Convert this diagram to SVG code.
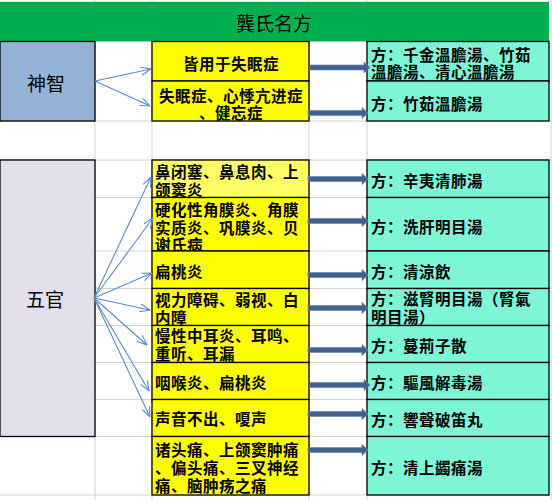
<svg xmlns="http://www.w3.org/2000/svg" xmlns:xlink="http://www.w3.org/1999/xlink" width="552" height="500" viewBox="0 0 552 500">
<style>
.grid{stroke:#D4D4D4;stroke-width:1;fill:none}
.box{stroke:#000;stroke-width:1.3}
.y{fill:#FFFF00}
.ly{fill:#FFFF66}
.t{fill:#7FF5D8}
.txt{font-family:"Noto Sans CJK SC","Noto Sans CJK TC",sans-serif;font-size:15.5px;letter-spacing:0.5px;font-weight:bold;fill:#000;dominant-baseline:central}
.big{font-family:"Noto Sans CJK SC","Noto Sans CJK TC",sans-serif;font-size:19px;fill:#000;dominant-baseline:central;text-anchor:middle}
.mid{text-anchor:middle}
.thin{stroke:#5B8BC9;stroke-width:1.1;fill:none;marker-end:url(#open)}
.blk{fill:#41608D;stroke:#6D8AB3;stroke-width:0.7}
</style>
<defs>
<marker id="open" viewBox="0 0 10 10" refX="10" refY="5" markerWidth="10" markerHeight="10" markerUnits="userSpaceOnUse" orient="auto">
<path d="M0,1 L10,5 L0,9" fill="none" stroke="#5B8BC9" stroke-width="1.1"/>
</marker>
<path id="ba" d="M0,-2.5 H54 V-5.5 L60,0 L54,5.5 V2.5 H0 Z"/>
</defs>
<rect x="0" y="0" width="552" height="500" fill="#fff"/>
<g id="gridlines" class="grid">
<path d="M95,0 V500 M152,0 V500 M309,0 V500 M367,0 V500 M551,0 V500"/>
<path d="M0,2 H552 M0,121 H552 M0,160 H552 M0,197.5 H552 M0,251 H552 M0,288.5 H552 M0,325.5 H552 M0,362.5 H552 M0,399.5 H552 M0,436.5 H552 M0,495 H552"/>
</g>
<g id="title">
<rect x="0" y="2" width="549" height="39.5" fill="#00B050"/>
<text class="big" x="274" y="22">龔氏名方</text>
</g>
<g id="shenzhi">
<rect class="box" x="0" y="41.5" width="95" height="79.5" fill="#95B3D7"/>
<text class="big" x="46" y="82">神智</text>
</g>
<g id="wuguan">
<rect class="box" x="0" y="160" width="95" height="276.5" fill="#E4DFEC"/>
<text class="big" x="45" y="298">五官</text>
</g>
<g id="sym1"><rect class="box y" x="152" y="41.5" width="157" height="39.5"/><text class="txt mid" x="231" y="63">皆用于失眠症</text></g>
<g id="sym2"><rect class="box y" x="152" y="81" width="157" height="40"/><text class="txt mid" x="231" y="94.5">失眠症、心悸亢进症<tspan x="231" dy="17.5">、健忘症</tspan></text></g>
<g id="sym3"><rect class="box ly" x="152" y="160" width="157" height="37.5"/><text class="txt" x="155" y="171">鼻闭塞、鼻息肉、上<tspan x="155" dy="18">颌窦炎</tspan></text></g>
<g id="sym4"><rect class="box y" x="152" y="197.5" width="157" height="53.5"/><text class="txt" x="155" y="209">硬化性角膜炎、角膜<tspan x="155" dy="17.5">实质炎、巩膜炎、贝</tspan><tspan x="155" dy="17.5">谢氏病</tspan></text></g>
<g id="sym5"><rect class="box y" x="152" y="251" width="157" height="37.5"/><text class="txt" x="155" y="270.5">扁桃炎</text></g>
<g id="sym6"><rect class="box y" x="152" y="288.5" width="157" height="37"/><text class="txt" x="155" y="299">视力障碍、弱视、白<tspan x="155" dy="17.5">内障</tspan></text></g>
<g id="sym7"><rect class="box y" x="152" y="325.5" width="157" height="37"/><text class="txt" x="155" y="335">慢性中耳炎、耳鸣、<tspan x="155" dy="18">重听、耳漏</tspan></text></g>
<g id="sym8"><rect class="box y" x="152" y="362.5" width="157" height="37"/><text class="txt" x="155" y="381.5">咽喉炎、扁桃炎</text></g>
<g id="sym9"><rect class="box y" x="152" y="399.5" width="157" height="37"/><text class="txt" x="155" y="418">声音不出、嗄声</text></g>
<g id="sym10"><rect class="box y" x="152" y="436.5" width="157" height="58.5"/><text class="txt" x="155" y="448.5">诸头痛、上颌窦肿痛<tspan x="155" dy="18">、偏头痛、三叉神经</tspan><tspan x="155" dy="18">痛、脑肿疡之痛</tspan></text></g>
<g id="rx1"><rect class="box t" x="367" y="41.5" width="182" height="39.5"/><text class="txt" x="371" y="53.5">方：千金溫膽湯、竹茹<tspan x="371" dy="17.5">溫膽湯、清心溫膽湯</tspan></text></g>
<g id="rx2"><rect class="box t" x="367" y="81" width="182" height="40"/><text class="txt" x="371" y="103">方：竹茹溫膽湯</text></g>
<g id="rx3"><rect class="box t" x="367" y="160" width="182" height="37.5"/><text class="txt" x="371" y="180">方：辛夷清肺湯</text></g>
<g id="rx4"><rect class="box t" x="367" y="197.5" width="182" height="53.5"/><text class="txt" x="371" y="226">方：洗肝明目湯</text></g>
<g id="rx5"><rect class="box t" x="367" y="251" width="182" height="37.5"/><text class="txt" x="371" y="270.5">方：清涼飲</text></g>
<g id="rx6"><rect class="box t" x="367" y="288.5" width="182" height="37"/><text class="txt" x="371" y="297.5">方：滋腎明目湯（腎氣<tspan x="371" dy="18">明目湯）</tspan></text></g>
<g id="rx7"><rect class="box t" x="367" y="325.5" width="182" height="37"/><text class="txt" x="371" y="345">方：蔓荊子散</text></g>
<g id="rx8"><rect class="box t" x="367" y="362.5" width="182" height="37"/><text class="txt" x="371" y="382">方：驅風解毒湯</text></g>
<g id="rx9"><rect class="box t" x="367" y="399.5" width="182" height="37"/><text class="txt" x="371" y="419">方：響聲破笛丸</text></g>
<g id="rx10"><rect class="box t" x="367" y="436.5" width="182" height="58.5"/><text class="txt" x="371" y="466.5">方：清上蠲痛湯</text></g>
<g id="connectors">
<path class="thin" d="M95,81 L151,69"/>
<path class="thin" d="M95,81 L150,106"/>
<path class="thin" d="M94,298 L151,177"/>
<path class="thin" d="M94,298 L153,218"/>
<path class="thin" d="M94,298 L152,273"/>
<path class="thin" d="M94,298 L150,310"/>
<path class="thin" d="M94,298 L147,345"/>
<path class="thin" d="M94,298 L149,391"/>
<path class="thin" d="M94,298 L150,417"/>
<use class="blk" href="#ba" x="310" y="67.5"/>
<use class="blk" href="#ba" x="308" y="113"/>
<use class="blk" href="#ba" x="308" y="179"/>
<use class="blk" href="#ba" x="308" y="221"/>
<use class="blk" href="#ba" x="308" y="275"/>
<use class="blk" href="#ba" x="308" y="308"/>
<use class="blk" href="#ba" x="308" y="350"/>
<use class="blk" href="#ba" x="310" y="385"/>
<use class="blk" href="#ba" x="308" y="414"/>
<use class="blk" href="#ba" x="308" y="450"/>
</g>
</svg>
